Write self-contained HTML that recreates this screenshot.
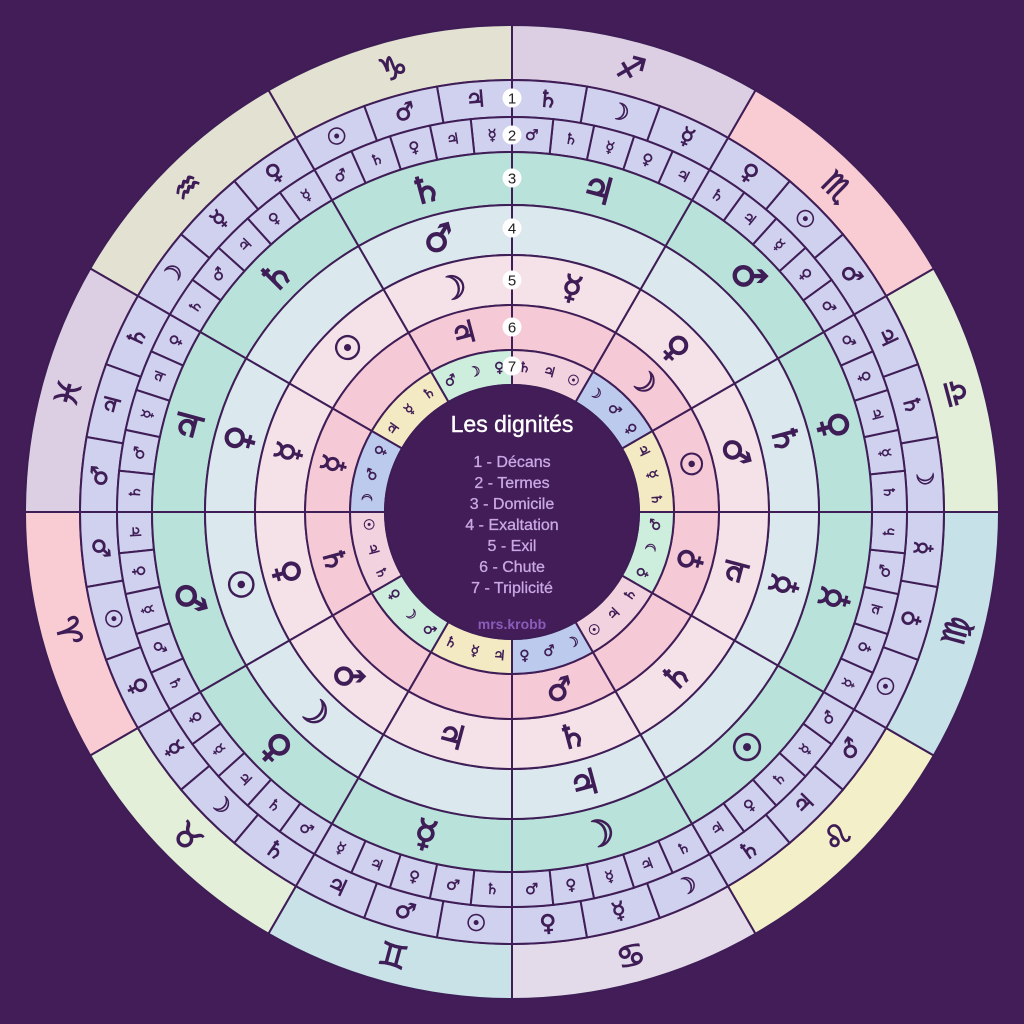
<!DOCTYPE html>
<html><head><meta charset="utf-8">
<style>
html,body{margin:0;padding:0;background:#421d57;}
svg{display:block;}
.c{font-family:"Liberation Sans","DejaVu Sans",sans-serif;}
</style></head>
<body>
<svg id="s" width="1024" height="1024" viewBox="0 0 1024 1024" xmlns="http://www.w3.org/2000/svg">
<rect width="1024" height="1024" fill="#421d57"/>
<g id="g"></g>
<circle cx="512" cy="512" r="127" fill="#421d57" stroke="#3f1d56" stroke-width="2"/>
<g class="c" text-anchor="middle">
<text x="512" y="432" font-size="23" fill="#ffffff" stroke="#ffffff" stroke-width="0.4">Les dignités</text>
<g font-size="16" fill="#c9a9e3" stroke="#c9a9e3" stroke-width="0.3">
<text x="512" y="467">1 - Décans</text>
<text x="512" y="488">2 - Termes</text>
<text x="512" y="509">3 - Domicile</text>
<text x="512" y="530">4 - Exaltation</text>
<text x="512" y="551">5 - Exil</text>
<text x="512" y="572">6 - Chute</text>
<text x="512" y="593">7 - Triplicité</text>
</g>
<text x="512" y="629" font-size="14" font-weight="bold" fill="#8a5cba">mrs.krobb</text>
</g>
<g id="n" class="c" text-anchor="middle"></g>
</svg>
<script>
var C=512,L="#3f1d56",NS="http://www.w3.org/2000/svg";
var g=document.getElementById('g'),nG=document.getElementById('n');
function P(r,t){t=t*Math.PI/180;return [C+r*Math.sin(t),C-r*Math.cos(t)];}
function sec(r1,r2,a,b,fill){var p1=P(r2,a),p2=P(r2,b),p3=P(r1,b),p4=P(r1,a);
var d="M"+p1+"A"+r2+","+r2+" 0 0 1 "+p2+"L"+p3+"A"+r1+","+r1+" 0 0 0 "+p4+"Z";
var e=document.createElementNS(NS,'path');e.setAttribute('d',d);e.setAttribute('fill',fill);
e.setAttribute('stroke',L);e.setAttribute('stroke-width','2');g.appendChild(e);}
function txt(r,t,s,fs){if(!s)return;var p=P(r,t);var rot=(t>90&&t<270)?t+180:t;
var e=document.createElementNS(NS,'text');e.setAttribute('x',p[0]);e.setAttribute('y',p[1]);
e.setAttribute('font-size',fs);e.setAttribute('fill',L);e.setAttribute('stroke',L);e.setAttribute('stroke-width',Math.max(0.5,fs/30));e.setAttribute('text-anchor','middle');
e.setAttribute('dominant-baseline','central');e.setAttribute('font-family','"DejaVu Sans",sans-serif');
e.setAttribute('transform','rotate('+rot+' '+p[0]+' '+p[1]+')');e.textContent=s+'\uFE0E';g.appendChild(e);}
var S="☉",M="☽",Me="☿",V="♀",Ma="♂",J="♃",Sa="♄";
var signs=["♈","♉","♊","♋","♌","♍","♎","♏","♐","♑","♒","♓"];
var signCol=["#f9ccd4","#e3efd9","#c8e2e8","#e3dbea","#f3f0c9","#c7e1e8","#e3efd9","#f9ccd4","#dccfe3","#e3e1d1","#e3e1d1","#dccfe3"];
var dec=[[Ma,S,V],[Me,M,Sa],[J,Ma,S],[V,Me,M],[Sa,J,Ma],[S,V,Me],[M,Sa,J],[Ma,S,V],[Me,M,Sa],[J,Ma,S],[V,Me,M],[Sa,J,Ma]];
var ter=[[J,V,Me,Ma,Sa],[V,Me,J,Sa,Ma],[Me,J,V,Ma,Sa],[Ma,V,Me,J,Sa],[J,V,Sa,Me,Ma],[Me,V,J,Ma,Sa],[Sa,Me,J,V,Ma],[Ma,V,Me,J,Sa],[J,V,Me,Sa,Ma],[Me,J,V,Sa,Ma],[Me,V,J,Ma,Sa],[V,J,Me,Ma,Sa]];
var dom=[Ma,V,Me,M,S,Me,V,Ma,J,Sa,Sa,J];
var exa=[S,M,"",J,"",Me,Sa,"","",Ma,"",V];
var exi=[V,Ma,J,Sa,Sa,J,Ma,V,Me,M,S,Me];
var fal=[Sa,"","",Ma,"",V,S,M,"",J,"",Me];
var tri=[[S,J,Sa],[V,M,Ma],[Sa,Me,J],[V,Ma,M]];
var triCol=["#f2d2de","#cdeedd","#f3e9c2","#bccbed"];
var R=[487,432,395,360,307,257,207,162,127];
for(var k=0;k<12;k++){
 var a=((8-k+12)%12)*30,b=a+30;var end=b;
 function parts(r1,r2,n,fill,arr,fs){for(var j=0;j<n;j++){var pa=end-(j+1)*30/n,pb=end-j*30/n;sec(r1,r2,pa,pb,fill);
  if(arr)txt((r1+r2)/2,(pa+pb)/2,arr[j],fs);}}
 sec(R[1],R[0],a,b,signCol[k]);txt((R[0]+R[1])/2,a+15,signs[k],32);
 parts(R[2],R[1],3,"#d0d1ee",dec[k],23);
 parts(R[3],R[2],5,"#d0d1ee",ter[k],15);
 sec(R[4],R[3],a,b,"#b9e3da");txt((R[3]+R[4])/2,a+15,dom[k],37);
 sec(R[5],R[4],a,b,"#dbe9ef");txt((R[4]+R[5])/2,a+15,exa[k],35);
 sec(R[6],R[5],a,b,"#f5e1e8");txt((R[5]+R[6])/2,a+15,exi[k],33);
 sec(R[7],R[6],a,b,"#f5c9d6");txt((R[6]+R[7])/2,a+15,fal[k],30);
 sec(R[8],R[7],a,b,triCol[k%4]);
 for(var j=0;j<3;j++)txt((R[7]+R[8])/2,end-(j+0.5)*10,tri[k%4][j],14);
}
var ys=[98,135,178,228,280,327,366];
for(var i=0;i<7;i++){var c=document.createElementNS(NS,'circle');c.setAttribute('cx',512);c.setAttribute('cy',ys[i]);c.setAttribute('r',9.5);c.setAttribute('fill','#fff');nG.appendChild(c);
var t=document.createElementNS(NS,'text');t.setAttribute('x',512);t.setAttribute('y',ys[i]+5.5);t.setAttribute('font-size','15');t.setAttribute('fill','#222');t.textContent=(i+1);nG.appendChild(t);}
</script>
</body></html>
